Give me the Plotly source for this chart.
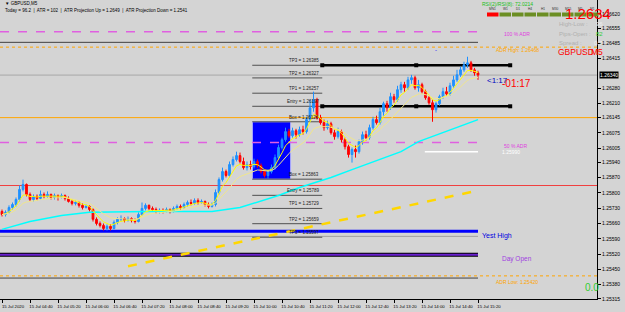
import plotly.graph_objects as go
import pandas as pd

# ---------------- data ----------------
opens = [1.25715,1.25701,1.25711,1.25733,1.25747,1.25770,1.25816,1.25839,1.25793,1.25770,
         1.25784,1.25775,1.25793,1.25784,1.25793,1.25779,1.25788,1.25779,1.25788,1.25775,
         1.25761,1.25752,1.25756,1.25743,1.25733,1.25738,1.25724,1.25679,1.25660,1.25651,
         1.25637,1.25647,1.25637,1.25665,1.25679,1.25683,1.25674,1.25683,1.25674,1.25669,
         1.25701,1.25729,1.25743,1.25729,1.25724,1.25715,1.25720,1.25715,1.25724,1.25715,
         1.25729,1.25738,1.25733,1.25747,1.25756,1.25752,1.25765,1.25756,1.25761,1.25747,
         1.25738,1.25747,1.25802,1.25861,1.25898,1.25880,1.25930,1.25953,1.25971,1.25944,
         1.25916,1.25930,1.25921,1.25944,1.25925,1.25898,1.25880,1.25898,1.25916,1.25962,
         1.26008,1.26044,1.26081,1.26062,1.26085,1.26067,1.26090,1.26081,1.26136,1.26190,
         1.26227,1.26145,1.26122,1.26099,1.26117,1.26076,1.26058,1.26081,1.26044,1.26012,
         1.25976,1.25999,1.25989,1.26035,1.26067,1.26053,1.26099,1.26136,1.26122,1.26172,
         1.26209,1.26190,1.26241,1.26227,1.26273,1.26296,1.26282,1.26318,1.26328,1.26282,
         1.26296,1.26264,1.26236,1.26213,1.26181,1.26209,1.26241,1.26264,1.26254,1.26291,
         1.26318,1.26341,1.26364,1.26387,1.26396,1.26364,1.26350]
highs = [1.25724,1.25720,1.25743,1.25756,1.25779,1.25834,1.25861,1.25843,1.25802,1.25793,
         1.25793,1.25811,1.25802,1.25807,1.25797,1.25797,1.25793,1.25797,1.25793,1.25784,
         1.25770,1.25765,1.25761,1.25752,1.25747,1.25743,1.25729,1.25688,1.25669,1.25660,
         1.25656,1.25656,1.25674,1.25688,1.25697,1.25688,1.25692,1.25688,1.25683,1.25711,
         1.25756,1.25752,1.25747,1.25738,1.25733,1.25729,1.25729,1.25733,1.25729,1.25738,
         1.25747,1.25747,1.25756,1.25765,1.25770,1.25775,1.25775,1.25770,1.25765,1.25756,
         1.25756,1.25816,1.25871,1.25916,1.25907,1.25944,1.25967,1.25989,1.25985,1.25962,
         1.25944,1.25948,1.25957,1.25953,1.25935,1.25907,1.25907,1.25930,1.25976,1.26021,
         1.26053,1.26099,1.26094,1.26099,1.26094,1.26104,1.26108,1.26149,1.26227,1.26264,
         1.26236,1.26158,1.26136,1.26131,1.26126,1.26090,1.26099,1.26090,1.26053,1.26021,
         1.26008,1.26017,1.26044,1.26081,1.26085,1.26113,1.26149,1.26154,1.26190,1.26218,
         1.26222,1.26259,1.26254,1.26291,1.26309,1.26309,1.26332,1.26341,1.26337,1.26318,
         1.26305,1.26273,1.26245,1.26227,1.26218,1.26250,1.26282,1.26286,1.26305,1.26337,
         1.26364,1.26378,1.26401,1.26424,1.26405,1.26373,1.26360]
lows = [1.25692,1.25692,1.25706,1.25724,1.25738,1.25761,1.25807,1.25784,1.25761,1.25761,
        1.25765,1.25770,1.25775,1.25779,1.25770,1.25770,1.25765,1.25775,1.25765,1.25756,
        1.25743,1.25743,1.25733,1.25724,1.25729,1.25715,1.25669,1.25651,1.25642,1.25628,
        1.25628,1.25628,1.25633,1.25656,1.25669,1.25665,1.25669,1.25665,1.25660,1.25665,
        1.25697,1.25720,1.25720,1.25715,1.25706,1.25706,1.25706,1.25711,1.25706,1.25711,
        1.25724,1.25724,1.25729,1.25738,1.25743,1.25747,1.25747,1.25752,1.25738,1.25729,
        1.25733,1.25738,1.25793,1.25852,1.25871,1.25871,1.25921,1.25944,1.25935,1.25907,
        1.25903,1.25907,1.25912,1.25916,1.25889,1.25871,1.25866,1.25889,1.25907,1.25953,
        1.25999,1.26035,1.26053,1.26053,1.26049,1.26058,1.26067,1.26072,1.26126,1.26172,
        1.26136,1.26113,1.26085,1.26090,1.26067,1.26044,1.26049,1.26031,1.25999,1.25962,
        1.25939,1.25962,1.25980,1.26021,1.26040,1.26044,1.26090,1.26113,1.26113,1.26154,
        1.26172,1.26181,1.26213,1.26218,1.26259,1.26264,1.26273,1.26300,1.26273,1.26264,
        1.26254,1.26227,1.26204,1.26126,1.26168,1.26200,1.26232,1.26245,1.26245,1.26282,
        1.26309,1.26332,1.26355,1.26373,1.26355,1.26337,1.26318]
closes = [1.25701,1.25711,1.25733,1.25747,1.25770,1.25816,1.25839,1.25793,1.25770,1.25784,
          1.25775,1.25793,1.25784,1.25793,1.25779,1.25788,1.25779,1.25788,1.25775,1.25761,
          1.25752,1.25756,1.25743,1.25733,1.25738,1.25724,1.25679,1.25660,1.25651,1.25637,
          1.25647,1.25637,1.25665,1.25679,1.25683,1.25674,1.25683,1.25674,1.25669,1.25701,
          1.25729,1.25743,1.25729,1.25724,1.25715,1.25720,1.25715,1.25724,1.25715,1.25729,
          1.25738,1.25733,1.25747,1.25756,1.25752,1.25765,1.25756,1.25761,1.25747,1.25738,
          1.25747,1.25802,1.25861,1.25898,1.25880,1.25930,1.25953,1.25971,1.25944,1.25916,
          1.25930,1.25921,1.25944,1.25925,1.25898,1.25880,1.25898,1.25916,1.25962,1.26008,
          1.26044,1.26081,1.26062,1.26085,1.26067,1.26090,1.26081,1.26136,1.26190,1.26227,
          1.26145,1.26122,1.26099,1.26117,1.26076,1.26058,1.26081,1.26044,1.26012,1.25976,
          1.25999,1.25989,1.26035,1.26067,1.26053,1.26099,1.26136,1.26122,1.26172,1.26209,
          1.26190,1.26241,1.26227,1.26273,1.26296,1.26282,1.26318,1.26328,1.26282,1.26296,
          1.26264,1.26236,1.26213,1.26181,1.26209,1.26241,1.26264,1.26254,1.26291,1.26318,
          1.26341,1.26364,1.26387,1.26396,1.26364,1.26350,1.26340]
bars = list(range(len(closes)))

x_tick_bars = [0, 8, 16, 24, 32, 40, 48, 56, 64, 72, 80, 88, 96, 104, 112, 120, 128, 136]
x_tick_labels = ["15 Jul 2020", "15 Jul 04:40", "15 Jul 05:20", "15 Jul 06:00", "15 Jul 06:40",
                 "15 Jul 07:20", "15 Jul 08:00", "15 Jul 08:40", "15 Jul 09:20", "15 Jul 10:00",
                 "15 Jul 10:40", "15 Jul 11:20", "15 Jul 12:00", "15 Jul 12:40", "15 Jul 13:20",
                 "15 Jul 14:00", "15 Jul 14:40", "15 Jul 15:20"]
y_tick_values = [1.26620, 1.26555, 1.26485, 1.26415, 1.26280, 1.26210, 1.26145, 1.26075,
                 1.26005, 1.25940, 1.25870, 1.25800, 1.25730, 1.25660, 1.25590, 1.25520,
                 1.25450, 1.25380, 1.25315]

# slow moving average (cyan), read at sample bars
cyan_bars = [0, 8, 17, 25, 42, 60, 68, 72, 79, 85, 94, 100, 114, 119, 136]
cyan_vals = [1.25633, 1.25669, 1.25697, 1.25711, 1.25715, 1.25715, 1.25733, 1.25752,
             1.25788, 1.25825, 1.25871, 1.25907, 1.25989, 1.26035, 1.26136]
# long trend line (gold)
gold_bars = [36, 136]
gold_vals = [1.25464, 1.25811]

upper_names = ["TP3", "TP2", "TP1", "Entry", "Box"]
upper_vals = [1.26385, 1.26327, 1.26257, 1.26197, 1.26126]
lower_names = ["Box", "Entry", "TP1", "TP2", "TP3"]
lower_vals = [1.25863, 1.25789, 1.25729, 1.25659, 1.25597]

current_price = 1.26340
adr_high = 1.26468
adr_low = 1.25420
atr_up = 1.2649
atr_down = 1.2541
adr_100 = 1.26538
adr_50 = 1.26031
orange_level = 1.26145
red_level = 1.25834
yest_high = 1.25624
yest_grey = 1.25601
day_open = 1.25517
white_level = 1.25989

# ---------------- layout geometry ----------------
W, H = 625, 312
PW, PH = 597, 299           # plot area in px
X0, X1 = -0.571, 170.0
Y0, Y1 = 1.25314, 1.26684
FONT = "Liberation Sans"

def px(x):
    return x / PW

def py(y):
    return 1 - y / PH

last_bar = bars[-1]
box_start, box_end, lvl_end = 71.5, 82.5, 91.5
thick_start, thick_end = 91.5, 145.2

fig = go.Figure()

shapes = []
# blue box
shapes.append(dict(type="rect", xref="x", yref="y", x0=box_start, x1=box_end,
                   y0=lower_vals[0], y1=upper_vals[-1], fillcolor="#0000FF",
                   line=dict(color="#C8C8FF", width=1), layer="below"))

def hline(y, x0, x1, color, width=1, dash="solid", xref="x"):
    shapes.append(dict(type="line", xref=xref, yref="y", x0=x0, x1=x1, y0=y, y1=y,
                       line=dict(color=color, width=width, dash=dash), layer="below"))

hline(adr_100, X0, last_bar, "#E060E0", 1.5, "dash")
hline(atr_up, X0, last_bar, "#404040", 1)
hline(adr_high, 0, 1, "#FFA500", 1, "dot", "paper")
hline(current_price, 0, 1, "#A8A8A8", 1, "solid", "paper")
hline(orange_level, 0, 1, "#FFA500", 1, "solid", "paper")
hline(adr_50, X0, last_bar, "#E060E0", 1.5, "dash")
hline(white_level, 120.8, last_bar, "#FFFFFF", 1.5)
hline(red_level, 0, 1, "#F04040", 1, "solid", "paper")
hline(yest_high, X0, last_bar, "#0000FF", 3)
hline(yest_grey, X0, last_bar, "#A0A0A0", 1)
hline(day_open, X0, last_bar, "#000000", 4)
hline(day_open, X0, last_bar, "#6A20D0", 2)
hline(adr_low, 0, 1, "#FFA500", 1, "dot", "paper")
hline(atr_down, X0, last_bar, "#404040", 1)
for v in upper_vals + lower_vals:
    hline(v, box_start, lvl_end, "#505050", 1)
# thick selected lines
for v in (upper_vals[0], upper_vals[3]):
    hline(v, thick_start, thick_end, "#000000", 2.5)

fig.add_trace(go.Scatter(x=cyan_bars, y=cyan_vals, mode="lines",
                         line=dict(color="#00FFFF", width=1.5), hoverinfo="skip"))
fig.add_trace(go.Scatter(x=gold_bars, y=gold_vals, mode="lines",
                         line=dict(color="#FFD700", width=2.5, dash="dash"), hoverinfo="skip"))

close_s = pd.Series(closes)
fast_ma = close_s.ewm(span=5, adjust=False).mean()
slow_ma = close_s.ewm(span=12, adjust=False).mean()
fig.add_trace(go.Scatter(x=bars, y=fast_ma, mode="lines",
                         line=dict(color="#FFFF00", width=1), hoverinfo="skip"))
fig.add_trace(go.Scatter(x=bars, y=slow_ma, mode="lines",
                         line=dict(color="#F0E68C", width=1), hoverinfo="skip"))

fig.add_trace(go.Candlestick(
    x=bars, open=opens, high=highs, low=lows, close=closes,
    increasing=dict(line=dict(color="#1E90FF", width=1), fillcolor="#1E90FF"),
    decreasing=dict(line=dict(color="#FF0000", width=1), fillcolor="#FF0000"),
    whiskerwidth=0, hoverinfo="skip"))

# markers on thick lines
mk_x = [thick_start, (thick_start + thick_end) / 2, thick_end]
for v in (upper_vals[0], upper_vals[3]):
    fig.add_trace(go.Scatter(x=mk_x, y=[v] * 3, mode="markers",
                             marker=dict(symbol="square", size=4, color="#000000"),
                             hoverinfo="skip"))

ann = []
def text(x, y, s, color="#000000", size=5, xanchor="left", yanchor="middle", xref="paper",
         yref="paper", bg=None):
    d = dict(x=x, y=y, xref=xref, yref=yref, text=s, showarrow=False, xanchor=xanchor,
             yanchor=yanchor, font=dict(family=FONT, size=size, color=color))
    if bg:
        d["bgcolor"] = bg
        d["borderpad"] = 0
    ann.append(d)

for n, v in zip(upper_names + lower_names, upper_vals + lower_vals):
    text(lvl_end - 0.4, v, f"{n} = {v:.5f}", "#202020", 4.5, "right", "bottom", "x", "y")

text(px(3), py(4), "▼ GBPUSD,M5", "#000000", 4.5)
text(px(3), py(11), "Today = 96.2  |  ATR = 102  |  ATR Projection Up = 1.2649  |  ATR Projection Down = 1.2541",
     "#000000", 4.5)
text(px(502), py(34), "100 % ADR", "#E040E0", 5)
text(px(494), py(50), "ADR High: 1.26468", "#FFA500", 5)
text(px(502), py(146), "50 % ADR", "#E040E0", 5)
text(px(500), py(152), "1.25990", "#FFFFFF", 5)
text(px(480), py(236), "Yest High", "#0000E0", 7)
text(px(500), py(259), "Day Open", "#A040E0", 6.5)
text(px(494), py(282), "ADR Low: 1.25420", "#FFA500", 5)
text(px(583), py(287), "0.0", "#32CD32", 10)
text(px(485), py(80), "<1:17", "#0000C0", 8)
text(px(500), py(83), "-01:17", "#FF0000", 10)
text(px(433), py(50), "-", "#0000FF", 6)

# top-right panel
text(px(480), py(4), "RSI(2)/RSI(8): 72.0214", "#20C020", 5)
tf = ["MN1", "W1", "D1", "H4", "H1", "M30", "M15", "M5", "M1"]
for i, t in enumerate(tf):
    text(px(492.5 + i * 12.5), py(9), t, "#303030", 3.2, "center")
    shapes.append(dict(type="rect", xref="paper", yref="paper",
                       x0=px(487 + i * 12.5), x1=px(498.5 + i * 12.5), y0=py(16.5), y1=py(12.5),
                       fillcolor="#FF0000" if i == 0 else "#6B8E23", line=dict(width=0)))
text(px(563), py(14), "1.2634", "#FF0000", 15)
text(px(557), py(24), "High-Low :", "#B0B0B0", 6)
text(px(594), py(24), "96", "#F0F0F0", 6)
text(px(557), py(34), "Pips-Open :", "#B0B0B0", 6)
text(px(594), py(34), "82", "#32CD32", 6)
text(px(557), py(43), "Spread :", "#B0B0B0", 6)
text(px(592), py(43), "0.7", "#F0F0F0", 6)
text(px(556), py(52), "GBPUSD", "#FF0000", 8.5)
text(px(589), py(52), "M5", "#FF0000", 8.5)

# current price label on axis
text(1.003, current_price, f"{current_price:.5f}", "#FFFFFF", 5, "left", "middle", "paper", "y",
     bg="#000000")

fig.update_layout(
    width=W, height=H, margin=dict(l=0, r=W - PW, t=0, b=H - PH, autoexpand=False),
    paper_bgcolor="#D4D4D4", plot_bgcolor="#D4D4D4", showlegend=False,
    shapes=shapes, annotations=ann, font=dict(family=FONT, size=5, color="#000000"),
    xaxis=dict(range=[X0, X1], tickvals=x_tick_bars, ticktext=x_tick_labels, tickangle=0,
               automargin=False,
               showgrid=False, zeroline=False, showline=True, linecolor="#000000",
               ticks="outside", ticklen=3, tickcolor="#000000", tickfont=dict(size=4.3),
               ticklabelshift=11, rangeslider=dict(visible=False), fixedrange=True),
    yaxis=dict(range=[Y0, Y1], side="right", tickvals=y_tick_values, automargin=False,
               ticktext=[f"{v:.5f}" for v in y_tick_values],
               showgrid=False, zeroline=False, showline=True, linecolor="#000000",
               ticks="outside", ticklen=3, tickcolor="#000000", tickfont=dict(size=5),
               fixedrange=True),
)

fig.write_html("out.html")
